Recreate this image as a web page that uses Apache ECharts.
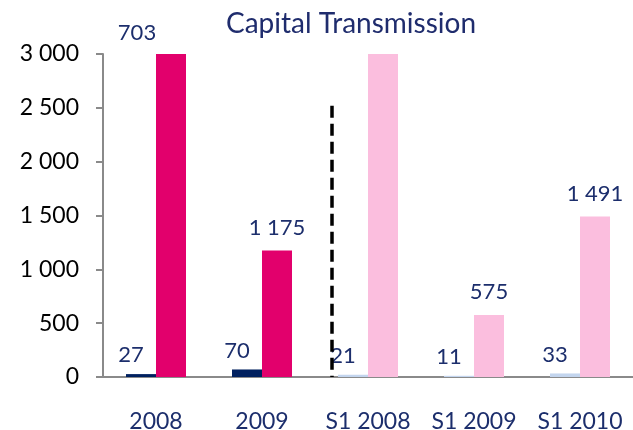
<!DOCTYPE html>
<html>
<head>
<meta charset="utf-8">
<script src="https://cdn.jsdelivr.net/npm/echarts@6/dist/echarts.min.js"></script>
<style>
  html, body { margin: 0; padding: 0; background: #fff; }
  #main { width: 633px; height: 430px; }
</style>
</head>
<body>
<div id="main"></div>
<script>
// chart data
const categories = ["2008", "2009", "S1 2008", "S1 2009", "S1 2010"];
const smallValues = [27, 70, 21, 11, 33];
const bigValues = [3703, 1175, 3000, 575, 1491];
const bigLabels = ["703", "1 175", "", "575", "1 491"];
const yTicks = [0, 500, 1000, 1500, 2000, 2500, 3000];
// dashed separator between full years and half years (in category units, and its top value)
const separatorPos = 2.16;
const separatorTop = 2520;

const navyText = "#1c2e6c";
const fontFamily = "Lato, 'Noto Sans', sans-serif";

// "3000" -> "3 000"
const fmt = (v) => String(v).replace(/\B(?=(\d{3})+(?!\d))/g, " ");

const chart = echarts.init(document.getElementById("main"));

const option = {
  animation: false,
  title: {
    text: "Capital Transmission",
    left: 346,
    textAlign: "center",
    top: 5,
    textStyle: { color: "#1f2c6d", fontSize: 28, fontWeight: "normal", fontFamily },
  },
  grid: { left: 103, right: 0, top: 54, bottom: 53, outerBoundsMode: "none", containLabel: false },
  xAxis: [
    {
      type: "category",
      data: categories,
      axisLine: { lineStyle: { color: "#8a8a8a", width: 2 } },
      axisTick: { length: 8, interval: 0, lineStyle: { color: "#8a8a8a", width: 2 } },
      axisLabel: { color: navyText, fontSize: 23, fontFamily, margin: 33, interval: 0, hideOverlap: false },
    },
    { type: "value", min: 0, max: categories.length, show: false },
  ],
  yAxis: {
    type: "value",
    min: 0,
    max: yTicks[yTicks.length - 1],
    interval: 500,
    splitLine: { show: false },
    axisLine: { show: true, lineStyle: { color: "#8a8a8a", width: 2 } },
    axisTick: { show: true, length: 7, lineStyle: { color: "#8a8a8a", width: 2 } },
    axisLabel: { color: "#000", fontSize: 23, fontFamily, margin: 24, formatter: fmt },
  },
  series: [
    {
      type: "bar",
      barWidth: 30,
      barGap: "0%",
      data: smallValues,
      itemStyle: {
        color: (p) => (p.dataIndex < 2 ? "#00205f" : "#c3d5ee"),
      },
      label: {
        show: true,
        position: "top",
        distance: 8,
        offset: [-10, 0],
        color: navyText,
        fontSize: 22,
        fontFamily,
      },
    },
    {
      type: "bar",
      barWidth: 30,
      data: bigValues,
      itemStyle: {
        color: (p) => (p.dataIndex < 2 ? "#e2006c" : "#fbbede"),
      },
      label: {
        show: true,
        position: "top",
        distance: 12,
        color: navyText,
        fontSize: 22,
        fontFamily,
        formatter: (p) => bigLabels[p.dataIndex],
      },
      labelLayout: (p) => (p.dataIndex === 0 ? { x: 137, y: 33, align: "center", verticalAlign: "middle" } : {}),
    },
    {
      type: "line",
      xAxisIndex: 1,
      data: [],
      markLine: {
        silent: true,
        symbol: ["none", "none"],
        label: { show: false },
        lineStyle: { color: "#000", width: 3.5, type: [12, 6] },
        data: [[{ coord: [separatorPos, separatorTop] }, { coord: [separatorPos, 0] }]],
      },
    },
  ],
};

chart.setOption(option);
</script>
</body>
</html>
